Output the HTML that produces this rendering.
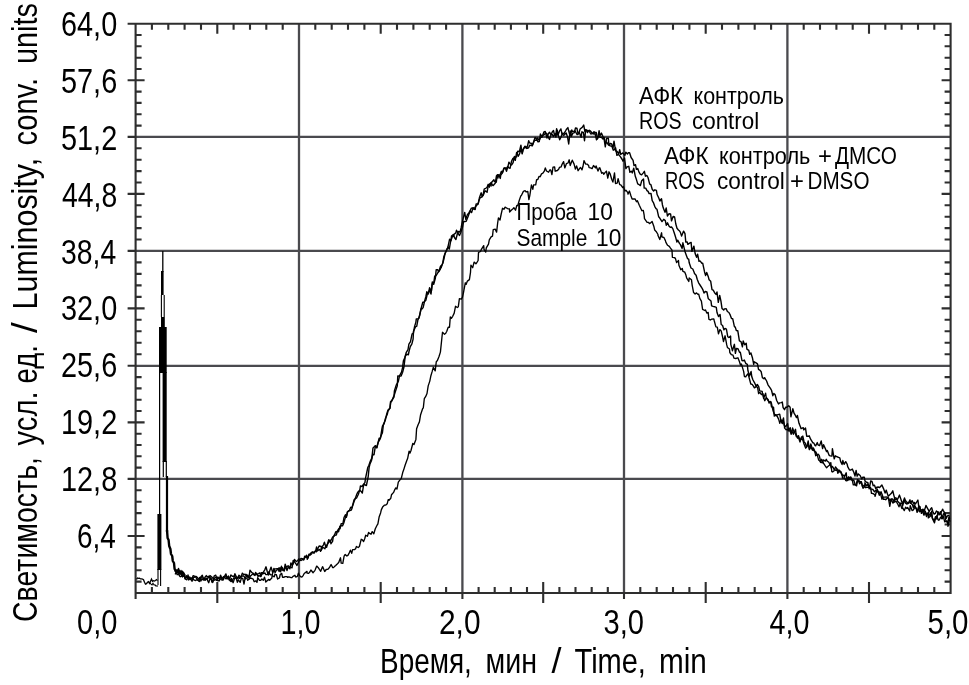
<!DOCTYPE html>
<html><head><meta charset="utf-8"><title>Luminosity chart</title>
<style>html,body{margin:0;padding:0;background:#fff;}body{width:969px;height:685px;overflow:hidden;}svg{display:block;}</style>
</head><body><svg width="969" height="685" viewBox="0 0 969 685"><path d="M299.0 23.7V593.0M462.4 23.7V593.0M624.0 23.7V593.0M787.4 23.7V593.0M135.6 478.9H950.6M135.6 365.8H950.6M135.6 250.9H950.6M135.6 136.9H950.6" fill="none" stroke="#4a4a4e" stroke-width="2.3"/><path d="M299.0 593.0V599.0M462.4 593.0V599.0M624.0 593.0V599.0M787.4 593.0V599.0M127.6 478.9H135.6M127.6 365.8H135.6M127.6 250.9H135.6M127.6 136.9H135.6M127.6 23.7H950.6V593.0H135.6V23.7M135.6 593.0V599.0M151.9 587.0V593.0M151.9 23.7V29.7M168.3 587.0V593.0M168.3 23.7V29.7M184.6 587.0V593.0M184.6 23.7V29.7M201.0 587.0V593.0M201.0 23.7V29.7M217.3 582.0V603.0M217.3 23.7V33.7M233.6 587.0V593.0M233.6 23.7V29.7M250.0 587.0V593.0M250.0 23.7V29.7M266.3 587.0V593.0M266.3 23.7V29.7M282.7 587.0V593.0M282.7 23.7V29.7M315.3 587.0V593.0M315.3 23.7V29.7M331.7 587.0V593.0M331.7 23.7V29.7M348.0 587.0V593.0M348.0 23.7V29.7M364.4 587.0V593.0M364.4 23.7V29.7M380.7 582.0V603.0M380.7 23.7V33.7M397.0 587.0V593.0M397.0 23.7V29.7M413.4 587.0V593.0M413.4 23.7V29.7M429.7 587.0V593.0M429.7 23.7V29.7M446.1 587.0V593.0M446.1 23.7V29.7M478.6 587.0V593.0M478.6 23.7V29.7M494.7 587.0V593.0M494.7 23.7V29.7M510.9 587.0V593.0M510.9 23.7V29.7M527.0 587.0V593.0M527.0 23.7V29.7M543.2 582.0V603.0M543.2 23.7V33.7M559.4 587.0V593.0M559.4 23.7V29.7M575.5 587.0V593.0M575.5 23.7V29.7M591.7 587.0V593.0M591.7 23.7V29.7M607.8 587.0V593.0M607.8 23.7V29.7M640.3 587.0V593.0M640.3 23.7V29.7M656.7 587.0V593.0M656.7 23.7V29.7M673.0 587.0V593.0M673.0 23.7V29.7M689.4 587.0V593.0M689.4 23.7V29.7M705.7 582.0V603.0M705.7 23.7V33.7M722.0 587.0V593.0M722.0 23.7V29.7M738.4 587.0V593.0M738.4 23.7V29.7M754.7 587.0V593.0M754.7 23.7V29.7M771.1 587.0V593.0M771.1 23.7V29.7M803.7 587.0V593.0M803.7 23.7V29.7M820.0 587.0V593.0M820.0 23.7V29.7M836.4 587.0V593.0M836.4 23.7V29.7M852.7 587.0V593.0M852.7 23.7V29.7M869.0 582.0V603.0M869.0 23.7V33.7M885.3 587.0V593.0M885.3 23.7V29.7M901.6 587.0V593.0M901.6 23.7V29.7M918.0 587.0V593.0M918.0 23.7V29.7M934.3 587.0V593.0M934.3 23.7V29.7M135.6 581.6H141.6M950.6 581.6H944.6M135.6 570.2H141.6M950.6 570.2H944.6M135.6 558.8H141.6M950.6 558.8H944.6M135.6 547.4H141.6M950.6 547.4H944.6M127.6 536.0H144.6M950.6 536.0H941.6M135.6 524.5H141.6M950.6 524.5H944.6M135.6 513.1H141.6M950.6 513.1H944.6M135.6 501.7H141.6M950.6 501.7H944.6M135.6 490.3H141.6M950.6 490.3H944.6M135.6 467.6H141.6M950.6 467.6H944.6M135.6 456.3H141.6M950.6 456.3H944.6M135.6 445.0H141.6M950.6 445.0H944.6M135.6 433.7H141.6M950.6 433.7H944.6M127.6 422.4H144.6M950.6 422.4H941.6M135.6 411.0H141.6M950.6 411.0H944.6M135.6 399.7H141.6M950.6 399.7H944.6M135.6 388.4H141.6M950.6 388.4H944.6M135.6 377.1H141.6M950.6 377.1H944.6M135.6 354.3H141.6M950.6 354.3H944.6M135.6 342.8H141.6M950.6 342.8H944.6M135.6 331.3H141.6M950.6 331.3H944.6M135.6 319.8H141.6M950.6 319.8H944.6M127.6 308.4H144.6M950.6 308.4H941.6M135.6 296.9H141.6M950.6 296.9H944.6M135.6 285.4H141.6M950.6 285.4H944.6M135.6 273.9H141.6M950.6 273.9H944.6M135.6 262.4H141.6M950.6 262.4H944.6M135.6 239.5H141.6M950.6 239.5H944.6M135.6 228.1H141.6M950.6 228.1H944.6M135.6 216.7H141.6M950.6 216.7H944.6M135.6 205.3H141.6M950.6 205.3H944.6M127.6 193.9H144.6M950.6 193.9H941.6M135.6 182.5H141.6M950.6 182.5H944.6M135.6 171.1H141.6M950.6 171.1H944.6M135.6 159.7H141.6M950.6 159.7H944.6M135.6 148.3H141.6M950.6 148.3H944.6M135.6 125.6H141.6M950.6 125.6H944.6M135.6 114.3H141.6M950.6 114.3H944.6M135.6 102.9H141.6M950.6 102.9H944.6M135.6 91.6H141.6M950.6 91.6H944.6M127.6 80.3H144.6M950.6 80.3H941.6M135.6 69.0H141.6M950.6 69.0H944.6M135.6 57.7H141.6M950.6 57.7H944.6M135.6 46.3H141.6M950.6 46.3H944.6M135.6 35.0H141.6M950.6 35.0H944.6" fill="none" stroke="#2e2e2e" stroke-width="2.1"/><polyline points="174.5,570.1 176.5,573.3 177.2,574.7 178.9,573.9 180.0,573.4 181.4,574.3 182.5,576.9 183.8,575.2 185.3,578.6 186.4,575.7 188.7,579.9 189.2,578.6 190.4,579.5 191.7,577.9 192.9,578.7 193.8,579.8 195.7,580.5 197.2,579.7 197.9,580.2 199.7,581.5 200.6,577.2 202.3,575.2 203.7,579.8 205.0,577.3 206.3,575.6 207.3,576.7 209.1,577.5 210.0,575.6 211.5,576.8 212.9,578.2 213.9,579.7 214.9,577.7 216.8,577.8 217.6,578.2 218.9,578.9 220.2,577.2 222.1,579.1 223.0,580.1 223.7,577.4 225.9,576.6 227.6,578.1 228.8,578.3 229.4,579.5 230.9,575.0 232.3,576.2 233.8,576.2 234.8,576.3 235.8,578.0 237.6,578.6 238.9,577.2 239.6,578.4 241.2,576.5 242.7,575.9 243.9,576.0 245.4,578.9 246.7,574.4 248.0,577.7 249.1,576.5 250.0,570.2 251.9,572.6 253.4,573.4 254.9,575.4 255.6,572.4 256.9,574.3 258.6,573.6 259.9,572.8 260.9,576.1 262.3,573.6 263.2,573.7 264.9,572.9 265.7,574.5 267.3,574.6 268.6,572.0 269.8,574.1 270.6,574.8 272.2,574.9 273.9,568.4 275.1,572.7 276.3,570.3 277.8,569.5 279.2,567.7 280.6,571.9 281.4,566.3 282.9,570.5 284.1,570.6 285.2,564.2 286.3,567.2 288.1,565.8 289.1,566.8 291.3,567.4 292.0,567.8 293.2,560.4 294.5,561.8 296.5,564.7 296.9,565.4 298.4,562.5 299.6,559.8 301.1,560.5 302.4,559.7 304.0,558.8 304.6,556.3 306.3,557.2 308.1,558.0 308.7,555.8 310.1,553.9 311.2,552.6 312.0,552.2 314.1,553.0 315.7,550.6 316.6,547.0 317.4,550.9 319.4,549.4 320.6,551.3 322.2,546.6 323.5,544.8 324.4,542.1 325.9,547.1 326.6,547.2 328.7,539.8 329.8,540.5 331.3,540.0 332.6,537.0 333.5,536.7 334.9,533.9 335.9,531.6 336.9,532.0 338.8,528.7 340.1,528.7 341.1,523.8 342.9,523.6 344.0,517.5 345.4,514.7 346.4,517.3 347.4,511.9 349.4,510.4 350.7,507.3 351.8,507.8 353.0,504.8 354.3,500.9 355.7,497.3 356.8,494.3 357.7,492.2 359.8,490.3 360.4,486.0 362.1,486.5 363.4,484.5 364.9,482.6 365.6,477.9 367.8,467.5 368.9,465.2 370.2,461.4 371.7,458.4 372.4,453.3 373.0,447.9 375.3,445.8 376.9,447.7 378.1,442.4 378.9,441.2 380.4,438.4 381.8,429.5 382.5,426.0 384.1,423.8 385.4,418.5 387.4,413.9 388.0,411.2 390.0,408.2 390.8,402.2 391.6,401.4 394.1,395.3 394.4,390.9 396.2,385.1 397.8,382.3 398.4,381.2 399.5,375.8 401.5,372.1 402.5,367.9 403.4,360.8 404.8,357.7 406.3,352.3 408.0,349.6 408.9,344.1 410.5,341.7 412.1,333.9 413.3,333.5 414.6,326.4 415.9,322.1 416.3,318.9 418.5,318.7 419.5,316.1 420.7,309.9 421.7,306.2 422.8,302.1 424.3,302.3 425.9,296.5 426.8,291.8 428.3,294.0 429.6,287.7 431.3,291.6 432.3,281.9 433.7,284.3 435.4,278.0 436.2,269.6 437.8,269.7 438.6,271.9 440.3,269.4 441.5,265.8 442.9,263.0 444.0,258.5 445.1,253.5 446.6,250.5 447.9,247.1 449.6,239.1 450.9,240.7 451.5,236.1 453.4,234.4 454.4,237.5 455.9,239.5 457.0,235.3 458.0,231.4 460.0,232.0 461.1,227.9 461.9,223.8 463.0,219.1 464.7,212.4 465.8,219.4 467.4,214.6 469.0,212.7 470.5,209.9 471.3,208.2 473.1,207.9 474.3,209.3 475.2,209.6 476.1,204.0 478.2,203.9 479.4,197.8 481.2,192.8 482.2,196.6 483.3,195.3 484.9,191.0 485.4,190.9 487.1,192.2 488.2,186.0 490.1,183.4 491.1,186.0 491.3,182.8 493.9,179.8 494.5,181.4 496.3,182.2 497.3,174.6 498.8,175.6 500.2,174.5 501.4,171.3 502.3,172.8 504.3,168.0 505.3,168.1 506.5,171.3 508.0,166.4 508.9,162.2 511.0,165.1 511.8,164.7 513.1,162.6 514.4,156.5 515.3,160.4 516.6,152.5 518.3,156.3 519.6,153.6 521.2,148.8 522.2,153.2 523.1,149.7 524.9,146.3 526.3,148.4 527.6,145.6 528.7,140.7 529.5,142.8 531.6,143.5 532.3,145.6 534.0,141.5 534.6,140.2 536.6,140.3 537.5,137.9 539.3,140.3 540.8,136.9 542.0,137.3 542.6,135.4 543.9,131.9 545.2,131.5 547.0,138.0 548.2,134.0 549.5,132.2 550.8,134.5 552.2,134.5 553.5,136.5 555.1,133.8 555.9,137.1 557.3,130.4 557.9,135.2 559.4,131.2 560.9,128.9 562.0,134.0 563.8,135.4 565.3,133.7 566.2,133.0 567.5,136.9 568.7,144.0 570.2,130.9 571.3,136.5 572.9,133.1 574.2,132.9 575.5,128.0 576.9,128.2 578.0,133.6 579.3,132.6 581.1,137.3 581.9,131.8 583.4,132.3 584.5,140.7 585.7,129.8 587.0,130.5 588.2,130.5 589.7,132.0 590.8,134.0 592.2,133.6 594.0,131.7 594.9,132.9 596.5,139.8 597.6,138.6 599.1,130.7 599.9,136.0 601.4,133.1 603.5,137.9 604.2,137.6 605.6,143.7 606.7,142.0 608.2,144.6 608.9,145.0 610.2,145.9 611.9,146.3 613.3,150.2 614.3,149.7 615.6,147.8 616.9,155.3 618.2,154.5 619.2,155.1 620.5,156.9 622.2,159.5 623.0,161.2 624.5,158.1 625.9,168.6 627.1,166.8 628.8,166.3 629.9,172.3 631.3,171.2 632.3,172.9 633.7,168.1 635.3,176.3 636.6,180.1 637.7,183.9 639.2,184.7 640.4,185.6 641.7,180.7 643.5,178.9 644.2,188.1 645.7,188.1 647.0,190.6 648.1,191.4 649.1,193.6 651.0,193.4 652.2,200.7 653.4,202.6 654.7,206.3 656.0,208.6 657.0,209.3 658.7,216.9 659.3,217.3 661.2,220.3 662.0,221.6 663.7,219.3 665.3,220.6 666.3,225.3 667.5,222.8 669.1,226.3 670.2,227.2 671.5,227.0 672.8,228.6 674.6,234.0 675.7,237.5 676.9,242.1 677.7,240.1 679.6,243.6 680.3,244.4 682.1,248.4 682.9,242.8 685.2,252.3 685.4,252.8 687.5,258.6 688.7,259.2 689.2,262.8 691.0,268.0 692.8,269.0 694.0,271.9 694.5,273.5 696.1,275.2 697.2,279.3 698.6,282.8 700.0,285.0 702.0,288.2 702.8,289.6 704.0,293.0 705.3,291.5 706.9,292.0 708.2,298.4 709.0,299.2 711.0,301.0 711.6,305.8 713.1,306.4 714.6,306.7 716.3,307.4 717.0,312.5 718.5,316.5 720.1,314.5 721.2,324.5 722.6,325.5 723.9,329.9 725.0,328.4 726.4,329.2 727.8,336.8 728.8,337.5 730.6,336.1 730.8,344.4 732.4,350.7 734.4,344.3 735.4,353.4 736.4,348.5 738.0,348.8 739.5,352.3 740.3,352.1 742.0,360.6 743.0,360.8 744.3,360.0 745.7,363.3 747.3,364.3 747.9,370.5 749.5,376.1 751.1,371.5 751.8,376.8 753.0,380.0 755.0,383.7 756.1,386.2 757.3,384.5 758.7,386.6 759.7,390.9 762.2,391.4 762.3,392.7 763.8,397.9 764.8,400.7 766.4,397.7 768.2,399.8 769.1,403.1 770.6,401.4 771.5,406.9 773.5,407.1 774.3,416.1 775.2,414.7 777.1,414.9 778.1,414.6 779.7,414.1 780.8,420.1 782.2,423.6 783.4,421.3 784.4,425.5 785.5,426.8 787.6,423.6 788.5,429.9 790.0,431.3 791.0,433.3 791.9,431.0 793.4,434.2 795.5,429.3 796.1,434.0 797.6,438.2 798.5,435.6 800.1,440.6 801.5,437.7 802.8,436.1 804.2,442.3 805.3,443.1 806.6,447.2 808.1,444.0 809.5,449.4 810.6,446.6 812.5,450.2 813.3,447.9 814.6,450.6 815.7,455.7 817.5,454.7 818.2,454.3 819.3,455.6 820.8,462.4 822.6,462.7 823.3,459.9 825.4,461.1 826.3,459.3 827.1,461.0 828.8,462.2 830.7,465.9 831.2,467.9 832.4,466.4 834.2,469.4 835.8,470.3 837.0,469.6 837.9,473.3 839.3,470.2 840.7,472.1 842.2,475.6 843.8,475.2 844.4,476.9 846.2,472.8 847.0,480.4 848.6,476.8 849.4,479.7 850.7,476.9 852.4,480.6 853.3,484.8 855.1,484.7 856.0,484.7 857.5,479.6 858.8,480.5 860.0,481.8 861.4,481.8 863.0,488.2 864.9,486.2 864.9,482.8 866.7,485.8 867.8,484.3 868.9,486.6 870.6,487.5 871.5,493.3 873.1,493.6 874.8,494.8 875.1,496.3 877.1,489.0 878.4,492.6 879.3,495.3 881.0,491.7 882.3,494.9 883.4,499.3 885.1,499.3 885.7,499.7 887.6,497.7 888.6,498.1 889.7,501.0 891.2,498.9 892.5,498.9 894.1,502.1 894.7,497.6 896.4,498.1 897.6,501.2 899.6,503.2 900.0,503.3 902.0,503.2 902.5,506.2 904.4,499.9 905.5,503.2 907.0,504.1 908.0,502.3 908.9,502.6 910.3,502.8 912.5,504.7 913.4,507.8 914.4,504.9 916.2,508.6 917.1,512.3 918.4,507.1 919.5,511.7 921.5,509.8 923.1,509.2 923.5,510.4 925.2,511.2 926.7,514.4 928.3,512.4 928.3,517.9 930.3,516.3 931.8,511.2 932.4,518.1 934.3,520.8 935.5,516.6 937.0,519.2 937.9,511.7 939.5,514.3 940.5,511.6 942.2,518.5 943.3,514.3 944.5,512.8 945.4,519.5 947.7,523.5 948.8,517.6 950.0,521.8" fill="none" stroke="#000" stroke-width="1.4" stroke-linejoin="round"/><polyline points="175.2,570.7 176.5,572.1 177.7,571.7 178.5,568.4 180.2,573.1 181.0,570.4 182.7,576.3 184.2,575.5 185.0,577.2 186.8,577.5 187.8,577.1 190.0,577.3 190.5,578.3 192.0,581.3 193.4,577.4 194.5,577.2 195.9,576.4 197.0,577.1 198.4,578.8 199.7,578.9 201.2,577.8 202.7,578.1 203.6,578.1 205.3,580.0 206.2,578.2 207.2,579.6 208.7,582.7 209.9,578.9 211.3,578.7 212.7,582.6 214.1,576.2 215.7,575.2 216.8,577.9 217.8,580.7 219.4,580.8 220.5,575.1 222.0,578.6 223.5,576.7 224.4,576.7 225.9,573.9 227.4,578.9 228.4,576.3 229.3,578.4 230.9,579.9 231.9,581.0 233.8,578.0 234.9,573.8 236.2,576.6 237.9,578.0 238.9,575.2 240.0,576.3 240.8,577.8 242.4,573.1 243.7,574.6 245.1,574.2 246.1,576.0 248.0,575.3 249.5,578.9 250.3,576.1 251.3,575.3 253.0,573.7 254.2,575.0 255.9,574.5 256.9,574.0 258.0,576.4 259.1,575.6 260.8,576.6 261.4,572.6 263.1,572.6 264.9,569.6 266.0,566.8 267.3,571.7 268.5,575.0 269.5,571.5 271.1,567.1 272.6,572.4 274.0,569.7 274.8,568.9 276.4,568.8 278.0,568.6 279.1,571.5 280.8,567.7 281.6,570.0 282.4,567.6 284.2,571.0 285.5,566.1 287.0,570.5 288.2,567.0 289.9,568.8 290.9,562.9 292.1,565.2 293.1,564.0 294.5,559.5 296.3,561.6 297.8,560.5 298.6,559.0 299.9,559.5 301.0,558.5 302.5,558.7 303.7,560.0 304.9,557.5 306.6,555.3 307.3,559.4 308.9,554.2 310.3,555.1 311.7,553.7 312.8,551.8 313.8,552.8 315.4,550.9 316.4,551.7 317.9,548.4 319.1,546.0 321.3,546.4 321.3,550.3 322.8,547.3 324.9,548.8 325.7,546.2 326.7,545.4 328.6,542.4 330.3,541.0 331.0,543.7 332.6,541.4 333.2,537.1 334.7,535.2 336.3,535.1 337.6,530.5 338.6,531.7 339.9,526.1 341.2,525.7 342.5,525.9 343.8,523.0 345.1,518.4 346.7,515.6 347.5,512.0 349.3,510.6 351.0,510.3 351.8,509.0 353.0,503.9 354.1,499.8 355.5,498.4 356.6,498.0 358.4,494.3 359.6,490.2 361.1,491.4 362.3,493.1 363.7,484.5 365.3,485.0 366.4,485.5 368.2,476.6 369.1,467.7 369.9,464.3 371.5,460.5 372.8,454.3 374.0,454.8 375.4,445.9 376.7,447.7 378.2,442.2 379.1,438.3 380.1,438.6 381.6,434.5 382.4,432.9 383.5,424.0 385.3,420.3 386.8,413.6 388.0,410.0 389.9,408.3 390.5,401.7 391.7,400.6 394.0,397.0 394.2,395.2 396.2,389.0 397.3,385.7 397.8,375.9 400.2,376.1 401.1,376.0 402.6,372.3 403.9,367.3 405.2,356.3 406.7,354.3 408.4,354.7 409.1,351.0 410.3,346.6 411.9,343.8 413.1,339.1 413.5,331.2 415.6,326.7 416.7,326.3 418.0,319.4 419.0,317.9 421.3,308.4 422.2,308.8 423.2,307.4 424.5,301.5 425.9,300.2 427.2,294.5 428.7,291.3 429.9,291.5 431.0,294.1 432.3,283.7 433.9,282.0 434.7,276.2 436.2,275.5 437.9,272.7 438.9,271.2 440.6,266.0 441.2,267.6 442.7,263.1 443.9,256.5 445.2,253.0 446.9,249.2 448.3,247.1 449.3,249.1 450.6,241.4 452.5,236.3 453.7,236.3 453.9,234.5 455.8,232.9 456.5,230.3 458.0,233.2 459.5,235.5 460.7,232.8 462.5,227.4 463.5,221.8 464.9,221.5 466.2,221.3 468.0,216.8 468.9,214.3 470.4,210.9 471.6,212.6 473.1,207.7 474.0,209.0 475.3,206.8 477.0,205.0 478.0,204.1 478.7,201.3 480.1,197.8 481.7,197.2 483.3,193.8 484.2,189.2 486.2,188.0 487.1,187.2 488.2,184.3 489.3,187.2 491.1,182.4 492.4,185.1 493.2,185.5 495.2,183.3 496.5,175.7 497.9,178.1 498.7,174.8 500.3,178.4 500.7,175.3 502.7,172.4 503.8,168.1 505.2,167.9 506.7,168.4 507.6,166.6 509.1,168.1 510.1,168.2 511.5,161.4 512.7,158.7 514.4,157.6 516.0,156.9 516.6,156.8 517.7,151.3 519.4,151.5 520.9,145.2 522.2,153.9 523.1,149.7 524.7,146.8 525.8,146.5 527.2,148.3 528.6,147.8 529.8,145.1 531.3,145.5 532.3,145.7 534.3,139.7 535.1,137.4 536.1,138.3 538.0,141.8 539.3,141.5 540.4,134.0 541.6,136.1 543.0,135.3 544.5,134.4 545.5,132.9 547.0,133.9 547.9,136.4 549.5,139.5 550.4,136.4 552.1,132.2 553.5,130.5 554.4,134.6 556.0,133.5 556.6,128.8 558.5,135.9 559.7,139.7 561.3,136.4 562.4,133.3 564.0,133.6 565.6,130.8 566.3,129.5 567.9,127.6 569.4,133.7 570.5,135.1 571.8,130.0 572.7,131.8 574.2,131.0 575.1,130.9 577.0,134.5 578.1,134.2 579.4,131.4 580.1,129.0 582.2,127.4 583.7,125.0 584.9,131.6 586.0,129.6 587.5,132.6 588.4,130.8 589.5,130.3 591.0,131.6 592.1,133.3 594.1,134.2 594.2,132.4 596.3,132.5 597.3,138.7 598.7,135.9 600.3,137.4 601.4,137.2 603.0,139.0 604.0,138.4 605.3,146.8 606.6,138.5 608.3,138.1 609.0,145.4 610.4,143.4 611.7,144.0 613.0,148.2 614.0,141.1 615.6,150.8 617.1,151.5 618.7,153.9 619.7,149.7 620.7,154.3 622.6,153.0 623.0,153.2 624.9,155.3 625.8,152.1 627.4,154.0 628.3,152.8 629.6,152.7 631.1,157.5 633.1,160.4 634.0,165.6 635.5,164.7 636.4,169.4 637.8,168.6 638.9,171.9 640.2,174.1 641.6,174.9 643.3,172.9 644.4,171.3 645.4,176.2 646.9,175.5 648.0,177.5 649.7,184.1 650.9,184.7 652.2,189.2 653.6,191.0 654.9,189.8 656.4,190.4 657.1,194.5 658.8,198.0 659.9,201.0 661.5,198.7 662.4,204.7 663.3,208.1 665.0,212.3 666.2,208.0 667.4,216.0 668.9,213.8 670.6,214.0 671.5,220.9 673.1,216.4 674.6,217.0 675.8,224.0 677.0,228.3 678.4,230.0 679.3,230.7 680.3,232.1 681.6,236.0 683.6,231.1 685.0,233.7 685.8,242.1 687.2,242.0 687.8,244.3 690.0,242.9 691.1,242.4 691.9,251.4 693.9,246.1 695.2,253.8 696.6,257.3 697.6,254.1 699.0,261.3 700.0,260.9 701.9,263.2 702.7,263.1 704.5,271.7 705.6,275.6 706.7,272.4 708.4,277.1 709.1,279.7 710.7,281.3 712.0,289.7 713.2,290.2 714.6,292.7 716.0,294.4 717.0,292.0 718.3,302.4 719.7,295.5 720.9,300.9 722.0,308.4 723.7,310.1 724.4,308.9 726.2,308.8 727.4,311.5 728.9,312.5 730.2,314.9 731.5,318.5 732.7,318.6 734.4,326.7 735.2,326.9 736.3,330.5 737.8,330.8 739.4,340.8 741.0,341.6 742.4,346.8 743.2,340.9 744.7,344.8 746.2,343.2 746.9,349.1 748.8,350.3 749.7,354.4 750.9,352.9 752.4,357.7 753.7,364.3 754.2,361.8 756.1,362.9 757.5,363.9 758.5,369.4 760.1,370.4 761.2,371.8 762.4,377.6 763.9,378.8 764.6,377.7 766.6,381.0 768.0,384.8 769.2,386.6 770.6,388.7 771.6,390.5 772.8,395.7 773.8,393.5 775.1,394.6 776.7,400.5 778.5,403.9 779.5,402.9 781.2,402.6 782.3,402.1 783.1,407.6 784.5,409.7 785.7,407.1 786.9,407.2 788.7,405.7 790.1,407.2 790.9,416.8 792.8,408.8 794.1,413.4 794.9,414.5 796.5,417.6 797.4,415.5 799.0,423.3 800.5,427.0 801.1,428.7 803.3,427.7 803.7,429.9 805.5,428.1 806.7,436.2 808.4,436.3 809.2,435.8 810.6,439.2 812.9,442.9 813.8,443.0 814.9,445.3 815.7,445.8 817.3,442.6 818.0,444.8 819.6,445.6 821.2,441.0 822.6,448.6 823.6,444.8 825.2,448.4 826.6,451.6 827.3,450.6 829.0,455.1 830.2,455.9 831.9,456.1 832.4,448.7 834.2,458.9 835.4,455.8 837.3,457.0 837.3,456.9 839.8,457.9 840.6,461.4 842.1,464.5 842.8,460.5 844.1,464.4 845.7,461.7 847.1,464.0 847.7,466.6 849.5,470.0 850.9,470.0 852.3,469.1 853.8,472.3 855.0,476.1 856.1,470.4 857.1,476.2 858.3,473.9 860.1,475.5 861.8,479.0 862.7,477.3 864.3,477.1 865.0,481.1 866.9,482.5 867.8,482.5 869.2,488.9 870.7,481.0 872.0,481.4 873.2,485.7 874.5,485.2 875.8,488.8 876.8,487.2 878.2,487.0 879.6,487.6 881.4,485.5 881.9,485.0 883.5,488.6 885.1,493.1 886.3,490.1 887.1,493.1 888.3,496.2 889.8,494.8 891.4,493.3 892.8,490.8 893.8,495.1 895.2,500.1 896.4,498.8 897.6,499.3 899.5,495.1 900.9,499.3 901.7,501.7 902.8,502.9 904.5,497.9 905.2,500.1 906.5,502.0 908.2,503.6 910.0,499.8 910.7,503.3 912.1,500.7 913.9,504.1 914.4,502.4 915.5,504.0 917.9,500.0 918.9,507.7 919.8,506.5 921.4,513.4 922.8,509.7 923.7,512.4 925.9,505.9 925.9,505.4 928.2,509.6 929.1,511.8 930.4,509.3 931.7,507.8 932.7,511.2 934.1,514.1 935.4,513.3 936.4,510.9 938.3,512.6 939.0,514.9 940.4,513.9 942.6,509.2 943.2,510.3 945.1,513.6 946.3,518.3 947.3,515.9 949.0,515.3 949.6,519.0" fill="none" stroke="#000" stroke-width="1.4" stroke-linejoin="round"/><polyline points="175.0,574.3 176.5,572.3 177.4,572.1 179.4,575.8 180.3,576.7 181.3,576.4 182.3,571.2 183.7,573.0 185.1,579.0 186.9,579.8 188.0,575.0 189.1,578.8 190.7,578.6 192.2,578.1 193.2,575.6 194.9,576.3 195.5,576.7 197.1,579.3 198.7,580.9 199.6,577.4 201.0,580.9 201.6,579.3 203.7,579.9 205.1,580.1 206.0,578.4 207.4,579.2 208.8,576.1 210.4,579.2 210.7,577.6 211.9,582.1 214.2,580.2 215.8,579.7 216.6,580.4 217.8,576.9 219.1,578.4 220.5,579.2 221.8,580.0 223.6,579.4 223.9,576.4 225.9,578.9 227.1,578.2 228.5,576.1 228.9,579.8 231.2,581.6 231.5,578.5 233.1,582.7 234.6,578.4 236.0,577.5 237.4,582.2 238.4,579.8 240.2,582.4 241.4,578.1 242.8,578.5 244.0,584.1 245.1,578.1 246.9,578.1 247.7,580.4 249.0,579.0 250.5,578.2 252.0,578.5 253.2,579.2 254.2,581.7 255.9,580.8 257.0,582.3 257.7,577.6 259.5,580.3 260.7,580.3 261.9,579.0 263.3,580.3 264.5,577.2 265.8,582.1 267.3,580.6 268.9,579.4 269.7,580.2 271.8,578.1 272.2,575.7 274.3,576.8 274.9,574.3 276.4,574.7 277.6,579.0 279.5,577.9 280.2,574.5 281.7,573.4 282.5,577.2 284.1,577.2 285.2,576.6 286.8,576.6 287.5,577.3 288.9,576.8 291.1,577.6 291.9,577.7 293.0,576.3 294.9,575.3 295.7,577.1 297.4,576.4 298.4,573.1 299.5,575.6 301.1,577.0 302.1,576.8 303.3,575.3 304.2,573.5 307.0,571.4 307.1,573.2 308.6,573.4 309.6,572.3 310.9,570.0 313.1,572.7 314.6,570.8 315.1,570.0 316.7,566.1 318.1,567.4 319.4,569.4 320.7,571.3 322.3,567.2 322.7,566.7 324.7,571.5 326.2,569.5 327.4,569.3 328.4,568.9 329.8,566.9 331.1,564.5 332.7,567.6 333.5,567.6 334.9,566.1 335.7,565.5 337.5,563.8 338.7,562.6 340.5,557.8 341.2,563.1 342.8,563.3 344.1,556.1 345.2,554.5 346.9,556.0 347.9,555.4 349.4,552.6 350.4,550.2 351.7,553.3 352.6,549.7 354.5,549.6 355.6,548.8 356.4,546.5 358.2,547.5 359.4,546.5 361.2,539.3 362.1,539.6 363.6,541.5 364.7,538.8 365.7,535.2 367.4,536.3 368.6,532.5 369.6,533.4 371.0,534.3 372.2,531.6 373.8,533.8 375.3,528.8 377.3,524.8 377.9,523.8 379.2,516.7 380.6,512.9 381.3,509.9 382.6,507.1 384.6,505.1 385.8,505.1 387.2,503.8 388.2,499.6 389.0,500.2 390.8,498.2 391.5,494.8 393.6,492.4 394.8,489.6 395.8,487.9 397.0,489.0 398.3,482.1 399.6,480.4 401.3,478.4 402.7,472.6 403.6,470.1 405.1,465.3 406.8,460.5 407.6,458.6 409.1,451.1 410.0,453.1 411.0,450.5 412.8,443.5 414.0,444.6 415.9,439.4 416.6,428.8 418.1,424.7 419.4,421.9 420.6,414.7 422.6,408.7 423.3,407.9 424.3,398.7 425.6,396.7 427.0,393.5 428.2,385.9 429.8,381.1 430.9,375.7 432.2,371.4 433.3,367.3 435.2,370.9 436.3,361.7 437.4,360.6 439.1,356.2 440.4,352.1 441.9,337.8 442.5,332.3 444.5,334.2 445.6,333.5 446.8,331.3 448.2,327.2 449.5,327.2 450.3,317.0 451.5,318.2 452.7,316.3 454.2,313.1 455.5,306.3 457.3,307.5 458.3,306.8 459.4,298.6 461.2,299.2 462.4,297.4 463.7,291.5 465.3,282.8 466.1,284.4 467.4,281.1 469.4,279.6 470.5,272.3 470.9,265.2 472.7,267.7 474.1,262.1 475.9,263.7 476.6,263.0 478.1,260.5 478.5,252.5 480.5,251.5 481.5,249.1 483.7,245.6 484.0,249.4 485.7,252.1 486.3,247.9 488.5,244.1 489.3,239.8 491.1,236.9 492.5,236.1 493.2,229.7 495.2,229.1 496.6,232.1 497.6,223.5 498.4,218.0 500.0,220.0 501.1,214.5 502.5,208.3 503.9,209.3 505.1,207.2 506.6,208.0 507.6,208.6 509.5,209.0 509.6,212.0 511.5,210.1 513.0,208.8 513.9,207.7 515.5,210.2 516.8,205.5 517.8,205.5 519.3,200.3 520.8,195.9 521.5,195.2 523.4,191.4 525.1,190.6 526.0,191.9 527.8,191.5 528.9,199.6 529.8,195.6 531.4,185.0 532.8,189.3 533.6,184.9 535.7,184.9 536.6,179.6 537.8,179.6 539.0,176.5 540.2,176.7 541.5,173.9 542.9,173.2 544.3,171.1 545.3,168.0 546.5,171.0 548.6,172.2 549.9,169.8 550.7,169.8 551.9,174.6 553.0,167.1 554.6,166.9 555.2,171.2 557.4,170.5 558.8,169.0 559.4,167.4 561.1,166.9 561.9,164.7 563.6,161.7 564.8,167.9 566.4,163.7 568.0,163.0 569.2,159.8 570.2,165.5 571.7,161.6 572.3,160.2 574.0,163.9 575.4,169.0 576.6,165.9 578.1,170.7 579.5,168.6 580.6,167.5 582.0,169.8 583.0,166.3 584.0,160.6 585.6,164.0 587.3,164.2 588.6,165.5 589.1,167.7 590.6,167.9 592.1,168.6 593.5,165.5 595.5,167.9 596.1,165.9 598.0,171.0 599.2,168.0 599.8,167.8 601.7,173.3 602.9,172.5 603.7,174.3 605.2,172.4 606.4,171.1 607.8,178.2 609.0,171.8 610.1,173.8 611.7,179.3 612.9,182.1 614.5,172.9 615.5,183.5 617.2,183.1 618.1,178.7 619.7,184.7 620.8,184.9 622.7,187.5 623.5,186.7 624.9,191.1 625.9,190.2 627.8,192.7 628.0,194.1 629.4,191.0 631.0,196.0 632.1,199.0 633.7,199.0 635.0,198.9 636.5,201.7 637.4,200.8 639.3,205.2 640.6,208.0 641.9,210.7 643.3,210.4 644.1,214.8 644.5,218.6 647.1,222.3 648.6,222.3 649.4,223.6 651.0,222.6 652.1,221.5 653.8,226.2 654.7,230.0 656.1,231.4 658.0,234.5 657.9,235.3 659.8,239.5 661.6,232.8 662.0,237.0 663.8,237.3 665.4,240.6 665.9,242.4 667.6,245.3 669.3,246.4 670.5,248.1 672.0,250.1 672.4,257.3 674.4,257.6 675.4,258.4 676.6,262.6 678.5,260.5 678.9,265.2 680.8,269.8 682.3,268.4 682.9,271.3 684.8,272.2 685.8,274.7 686.6,277.8 688.8,281.5 689.2,277.9 691.5,279.8 692.2,285.3 693.6,292.6 695.1,294.0 696.5,292.9 697.9,294.4 698.7,294.1 699.8,298.4 701.4,301.1 702.6,309.3 704.8,310.5 705.5,310.0 706.8,313.0 708.2,312.5 708.9,319.3 710.4,320.0 711.5,319.2 713.8,318.9 714.3,321.0 715.9,326.9 717.3,327.1 718.5,333.9 719.8,329.6 721.2,330.9 722.5,336.5 723.5,341.6 725.1,335.8 726.7,344.7 727.4,347.4 729.5,349.1 729.8,352.5 731.3,354.6 733.0,355.1 734.0,358.2 735.8,358.5 736.9,358.1 737.9,357.8 739.3,361.3 740.5,365.0 741.4,363.9 743.7,371.6 744.4,376.5 745.9,376.9 746.2,375.9 748.0,373.6 749.4,378.8 750.8,384.0 752.2,384.3 753.4,386.1 754.4,387.9 756.2,386.6 757.6,387.3 758.6,393.6 759.9,392.3 761.4,394.6 762.9,393.6 763.6,398.3 765.6,393.2 766.3,397.9 767.8,400.2 769.2,401.9 770.6,401.6 771.4,403.1 773.0,410.6 774.1,413.7 776.0,415.8 776.9,415.6 778.7,419.4 779.8,423.3 780.9,419.7 782.0,422.4 783.5,417.9 784.6,428.1 786.1,429.7 787.6,429.3 788.3,431.0 790.2,427.6 791.2,434.4 792.6,428.0 794.0,432.0 795.1,432.9 796.4,436.7 797.8,437.2 798.4,437.2 800.0,442.0 801.5,437.0 803.2,441.3 803.9,443.8 805.7,448.2 806.8,446.4 808.2,440.9 809.4,449.7 810.8,443.9 812.1,447.9 813.1,449.7 815.6,452.6 815.8,451.8 817.3,455.1 818.6,459.9 819.8,460.9 820.6,462.5 821.7,459.3 823.3,462.9 824.9,465.4 826.6,467.8 828.2,466.1 829.2,465.5 830.8,462.6 831.8,471.6 832.6,472.0 833.9,471.0 835.5,466.9 836.6,468.4 837.9,469.6 838.9,472.1 840.8,471.4 842.3,475.1 842.4,478.1 844.7,477.8 845.7,480.6 846.7,480.8 848.4,480.0 849.4,477.4 851.0,479.8 852.3,480.2 853.8,480.2 855.2,484.7 856.6,485.9 857.4,481.7 858.7,481.3 859.6,483.8 861.2,482.0 862.5,486.7 864.3,485.1 865.3,487.7 867.0,487.3 868.0,487.2 869.0,487.3 870.8,489.1 871.8,489.2 872.9,489.5 874.5,491.8 875.6,490.3 877.0,492.0 878.6,491.4 879.9,492.5 880.9,495.2 881.9,499.2 883.1,497.1 885.1,497.1 886.0,497.0 887.2,497.1 888.4,498.1 889.8,506.4 891.1,499.2 893.0,503.1 894.3,501.7 895.4,501.7 896.3,501.5 897.6,503.8 899.0,506.8 900.1,503.6 901.9,508.6 902.7,507.8 904.3,510.6 905.6,507.2 906.9,508.6 907.7,507.5 909.7,511.1 910.2,505.6 912.1,510.6 913.4,509.9 914.7,507.7 916.2,508.2 917.7,511.7 918.1,509.5 919.6,506.3 920.5,511.3 922.2,511.0 924.0,515.2 925.0,511.8 926.5,516.6 927.8,513.9 929.7,515.2 930.2,512.6 931.5,515.3 932.8,519.5 934.5,522.9 935.2,519.7 936.7,515.8 938.4,520.2 939.3,519.9 940.5,517.2 942.0,518.8 943.2,516.2 944.7,521.8 945.7,521.3 947.7,521.2 948.0,526.4 949.2,521.6" fill="none" stroke="#000" stroke-width="1.35" stroke-linejoin="round"/><polyline points="136.5,579.4 137.5,578.0 138.5,578.3 139.5,578.1 140.5,578.9 141.5,578.8 142.5,579.0 143.5,579.7 144.5,582.2 145.5,584.1 146.5,583.7 147.5,582.3 148.5,581.7 149.5,583.4 150.5,581.2 151.5,579.1 152.5,581.2 153.5,580.6 154.5,581.0 155.5,580.5 156.5,579.6 157.5,580.6" fill="none" stroke="#000" stroke-width="1.3"/><polyline points="149.0,582.9 150.0,582.9 151.0,584.1 152.0,584.9 153.0,583.3 154.0,585.0 155.0,584.9 156.0,586.2 157.0,585.8 158.0,586.3" fill="none" stroke="#000" stroke-width="1.1"/><path d="M162.8 251V272" stroke="#000" stroke-width="1.3"/><rect x="161" y="271" width="2.6" height="24" fill="#000"/><path d="M161.4 295V317M164.2 295V317" stroke="#000" stroke-width="1.1"/><rect x="161" y="317" width="3.8" height="10" fill="#000"/><rect x="159" y="327" width="7.7" height="46" fill="#000"/><path d="M159.6 372V516" stroke="#000" stroke-width="1.2"/><rect x="162.6" y="372" width="4.1" height="90" fill="#000"/><path d="M163.3 461V477M166.3 461V477" stroke="#000" stroke-width="1.2"/><rect x="165.9" y="476" width="2.2" height="56" fill="#000"/><rect x="157.4" y="514" width="4" height="56" fill="#000"/><path d="M158 569V585M160.6 569V586" stroke="#000" stroke-width="1.1"/><polyline points="167,530 167.6,538 168.6,540 169.2,546 170.4,549 171,554 172.2,556 172.8,561 174,563 174.6,569 176.5,571 178,570.5 180,573.5 183,573 185,576" fill="none" stroke="#000" stroke-width="2.4" stroke-linejoin="round"/><g style="font-family:'Liberation Sans',sans-serif" fill="#000"><text x="61.00" y="35.50" font-size="34.3" textLength="56.19" lengthAdjust="spacingAndGlyphs">64,0</text><text x="61.00" y="92.50" font-size="34.3" textLength="56.19" lengthAdjust="spacingAndGlyphs">57,6</text><text x="61.00" y="149.50" font-size="34.3" textLength="56.19" lengthAdjust="spacingAndGlyphs">51,2</text><text x="62.00" y="206.50" font-size="34.3" textLength="55.15" lengthAdjust="spacingAndGlyphs">44,8</text><text x="61.00" y="263.50" font-size="34.3" textLength="55.15" lengthAdjust="spacingAndGlyphs">38,4</text><text x="61.00" y="319.50" font-size="34.3" textLength="56.19" lengthAdjust="spacingAndGlyphs">32,0</text><text x="61.00" y="376.50" font-size="34.3" textLength="56.19" lengthAdjust="spacingAndGlyphs">25,6</text><text x="61.00" y="433.50" font-size="34.3" textLength="56.21" lengthAdjust="spacingAndGlyphs">19,2</text><text x="61.00" y="490.50" font-size="34.3" textLength="56.19" lengthAdjust="spacingAndGlyphs">12,8</text><text x="77.00" y="547.50" font-size="34.3" textLength="38.90" lengthAdjust="spacingAndGlyphs">6,4</text><text x="77.00" y="634.00" font-size="34.3" textLength="40.43" lengthAdjust="spacingAndGlyphs">0,0</text><text x="280.50" y="634.00" font-size="34.3" textLength="39.94" lengthAdjust="spacingAndGlyphs">1,0</text><text x="439.00" y="634.00" font-size="34.3" textLength="41.50" lengthAdjust="spacingAndGlyphs">2,0</text><text x="603.50" y="634.00" font-size="34.3" textLength="40.46" lengthAdjust="spacingAndGlyphs">3,0</text><text x="769.50" y="634.00" font-size="34.3" textLength="39.94" lengthAdjust="spacingAndGlyphs">4,0</text><text x="927.50" y="634.00" font-size="34.3" textLength="40.99" lengthAdjust="spacingAndGlyphs">5,0</text><text x="380.00" y="672.50" font-size="34.3" textLength="91.88" lengthAdjust="spacingAndGlyphs">Время,</text><text x="485.50" y="672.50" font-size="34.3" textLength="51.48" lengthAdjust="spacingAndGlyphs">мин</text><text x="551.50" y="672.50" font-size="34.3" textLength="9.99" lengthAdjust="spacingAndGlyphs">/</text><text x="574.50" y="672.50" font-size="34.3" textLength="71.41" lengthAdjust="spacingAndGlyphs">Time,</text><text x="659.00" y="672.50" font-size="34.3" textLength="47.85" lengthAdjust="spacingAndGlyphs">min</text><text x="639.00" y="103.50" font-size="24.3" textLength="44.13" lengthAdjust="spacingAndGlyphs">АФК</text><text x="693.50" y="103.50" font-size="24.3" textLength="90.38" lengthAdjust="spacingAndGlyphs">контроль</text><text x="639.00" y="129.00" font-size="24.3" textLength="42.53" lengthAdjust="spacingAndGlyphs">ROS</text><text x="692.00" y="129.00" font-size="24.3" textLength="67.21" lengthAdjust="spacingAndGlyphs">control</text><text x="664.00" y="163.50" font-size="24.3" textLength="44.67" lengthAdjust="spacingAndGlyphs">АФК</text><text x="719.00" y="163.50" font-size="24.3" textLength="91.40" lengthAdjust="spacingAndGlyphs">контроль</text><text x="818.00" y="163.50" font-size="24.3" textLength="13.92" lengthAdjust="spacingAndGlyphs">+</text><text x="835.00" y="163.50" font-size="24.3" textLength="61.99" lengthAdjust="spacingAndGlyphs">ДМСО</text><text x="665.00" y="189.00" font-size="24.3" textLength="39.91" lengthAdjust="spacingAndGlyphs">ROS</text><text x="717.00" y="189.00" font-size="24.3" textLength="67.77" lengthAdjust="spacingAndGlyphs">control</text><text x="790.00" y="189.00" font-size="24.3" textLength="13.92" lengthAdjust="spacingAndGlyphs">+</text><text x="807.50" y="189.00" font-size="24.3" textLength="61.96" lengthAdjust="spacingAndGlyphs">DMSO</text><text x="516.50" y="220.00" font-size="24.3" textLength="60.42" lengthAdjust="spacingAndGlyphs">Проба</text><text x="587.50" y="220.00" font-size="24.3" textLength="25.37" lengthAdjust="spacingAndGlyphs">10</text><text x="516.50" y="245.50" font-size="24.3" textLength="70.90" lengthAdjust="spacingAndGlyphs">Sample</text><text x="596.00" y="245.50" font-size="24.3" textLength="25.30" lengthAdjust="spacingAndGlyphs">10</text><text transform="translate(37.00 622.00) rotate(-90)" x="0" y="0" font-size="34.3" textLength="164.96" lengthAdjust="spacingAndGlyphs">Светимость,</text><text transform="translate(37.00 445.50) rotate(-90)" x="0" y="0" font-size="34.3" textLength="54.11" lengthAdjust="spacingAndGlyphs">усл.</text><text transform="translate(37.00 383.50) rotate(-90)" x="0" y="0" font-size="34.3" textLength="38.50" lengthAdjust="spacingAndGlyphs">ед.</text><text transform="translate(37.00 333.00) rotate(-90)" x="0" y="0" font-size="34.3" textLength="10.68" lengthAdjust="spacingAndGlyphs">/</text><text transform="translate(37.00 309.50) rotate(-90)" x="0" y="0" font-size="34.3" textLength="151.78" lengthAdjust="spacingAndGlyphs">Luminosity,</text><text transform="translate(37.00 145.50) rotate(-90)" x="0" y="0" font-size="34.3" textLength="67.76" lengthAdjust="spacingAndGlyphs">conv.</text><text transform="translate(37.00 64.00) rotate(-90)" x="0" y="0" font-size="34.3" textLength="60.91" lengthAdjust="spacingAndGlyphs">units</text></g></svg></body></html>
